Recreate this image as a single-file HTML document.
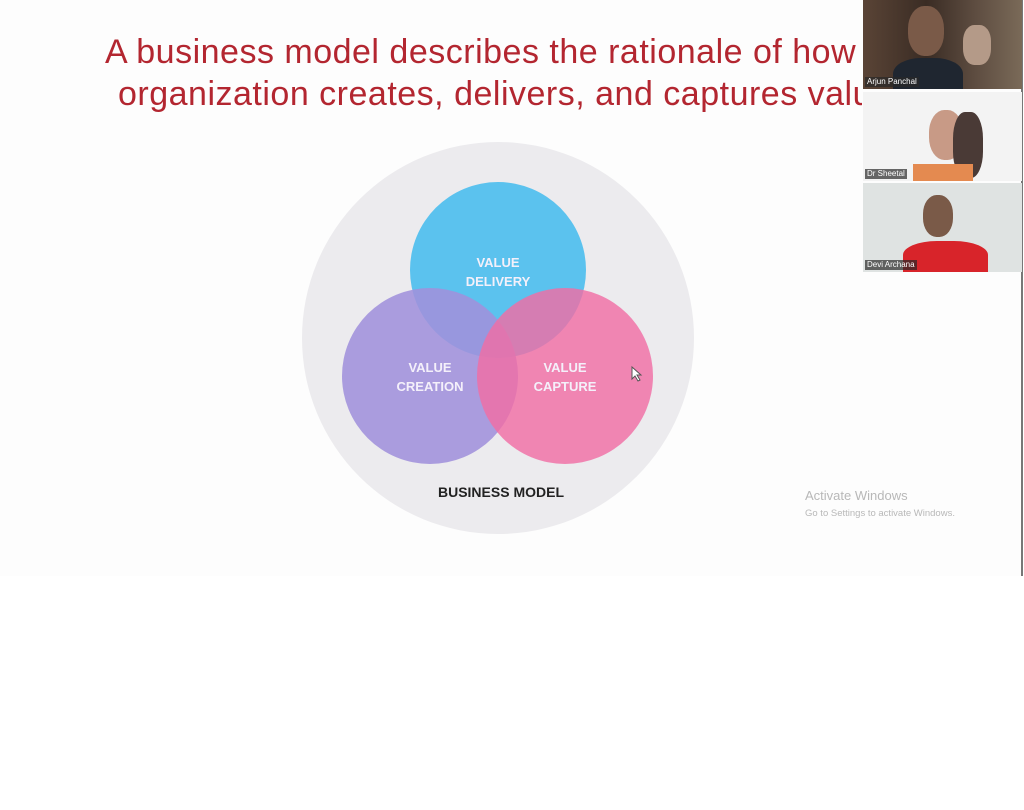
<!DOCTYPE html>
<html><head><meta charset="utf-8"><style>
html,body{margin:0;padding:0;width:1024px;height:810px;overflow:hidden;background:#fff;font-family:"Liberation Sans",sans-serif}
#slide{position:absolute;left:0;top:0;width:1022px;height:576px;background:#fdfdfd;overflow:hidden;z-index:1}
#title{position:absolute;left:0;top:0;width:862px;height:130px;overflow:hidden}
#vline{position:absolute;left:1021px;top:0;width:2px;height:576px;background:#777;z-index:5}
.t{position:absolute;color:#b32630;font-size:34px;white-space:nowrap;letter-spacing:0.5px}
.vid{position:absolute;left:863px;width:159px;height:89px;overflow:hidden;z-index:10}
.lab{position:absolute;left:2px;bottom:2px;font-size:8px;color:#fff;background:rgba(40,40,40,.7);padding:0 2px;line-height:10px}
.aw{position:absolute;color:#b8b8b8;white-space:nowrap}
</style></head><body>
<div id="slide">
<div id="title">
<div class="t" style="left:105px;top:33px">A business model describes the rationale of how an</div>
<div class="t" style="left:118px;top:75px">organization creates, delivers, and captures value</div>
</div>
<svg width="1024" height="576" style="position:absolute;left:0;top:0">
<circle cx="498" cy="338" r="196" fill="#ecebee"/>
<circle cx="498" cy="270" r="88" fill="#5bc2ee"/>
<circle cx="430" cy="376" r="88" fill="rgb(160,145,220)" fill-opacity="0.88"/>
<circle cx="565" cy="376" r="88" fill="rgb(240,110,165)" fill-opacity="0.82"/>
<g font-family="Liberation Sans,sans-serif" font-weight="bold" font-size="13" fill="#f4f0fa" text-anchor="middle">
<text x="498" y="267">VALUE</text><text x="498" y="286">DELIVERY</text>
<text x="430" y="372">VALUE</text><text x="430" y="391">CREATION</text>
<text x="565" y="372">VALUE</text><text x="565" y="391">CAPTURE</text>
</g>
<text x="501" y="497" font-family="Liberation Sans,sans-serif" font-weight="bold" font-size="14" fill="#222" text-anchor="middle">BUSINESS MODEL</text>
<path d="M632 367 l0 12 l3 -3 l3 5 l2 -1 l-3 -5 l4 0 z" fill="#fff" stroke="#555" stroke-width="1"/>
</svg>
<div class="aw" style="left:805px;top:488px;font-size:13px">Activate Windows</div>
<div class="aw" style="left:805px;top:508px;font-size:9.5px">Go to Settings to activate Windows.</div>
</div>
<div id="vline"></div>
<div class="vid" style="top:0;background:linear-gradient(90deg,#5a4436,#3a2c24 40%,#5d4c40 70%,#7a6a58)">
<div style="position:absolute;left:45px;top:6px;width:36px;height:50px;border-radius:45%;background:#7a5a48"></div>
<div style="position:absolute;left:30px;top:58px;width:70px;height:40px;border-radius:40% 40% 0 0;background:#1f2630"></div>
<div style="position:absolute;left:100px;top:25px;width:28px;height:40px;border-radius:40%;background:#b49a88"></div>
<div class="lab">Arjun Panchal</div></div>
<div class="vid" style="top:92px;background:#f3f3f3">
<div style="position:absolute;left:66px;top:18px;width:34px;height:50px;border-radius:45%;background:#c89a86"></div>
<div style="position:absolute;left:90px;top:20px;width:30px;height:66px;background:#4a3a36;border-radius:40%"></div>
<div style="position:absolute;left:50px;top:72px;width:60px;height:20px;background:#e48a50"></div>
<div class="lab">Dr Sheetal</div></div>
<div class="vid" style="top:183px;background:#dfe3e2">
<div style="position:absolute;left:60px;top:12px;width:30px;height:42px;border-radius:45%;background:#7a5a48"></div>
<div style="position:absolute;left:40px;top:58px;width:85px;height:35px;border-radius:40% 40% 0 0;background:#d8242a"></div>
<div class="lab">Devi Archana</div></div>
</body></html>
